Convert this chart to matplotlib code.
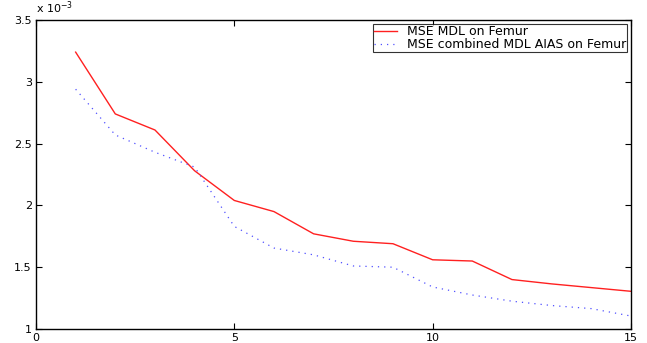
"""MSE of MDL vs combined MDL/AIAS on the femur data set."""

import matplotlib

matplotlib.use("Agg")
import matplotlib.pyplot as plt

plt.rcParams["font.family"] = ["DejaVu Sans"]

modes = [1, 2, 3, 4, 5, 6, 7, 8, 9, 10, 11, 12, 13, 14, 15]
mse_mdl = [3.24, 2.74, 2.61, 2.28, 2.04, 1.95, 1.77, 1.71, 1.69,
           1.56, 1.55, 1.40, 1.365, 1.335, 1.305]
mse_combined = [2.94, 2.57, 2.43, 2.31, 1.83, 1.655, 1.60, 1.51, 1.50,
                1.34, 1.275, 1.225, 1.19, 1.165, 1.105]
labels = ["MSE MDL on Femur", "MSE combined MDL AIAS on Femur"]

fig = plt.figure(figsize=(6.47, 3.43), dpi=100)
ax = fig.add_axes([0.0556, 0.0408, 0.9196, 0.9009])

ax.plot(modes, mse_mdl, color="#ff2020", linewidth=1.0, label=labels[0])
ax.plot(modes, mse_combined, color="#5050ff", linewidth=0.9,
        linestyle=(0, (1, 4)), label=labels[1])

ax.set_xlim(0, 15)
ax.set_ylim(1.0, 3.5)
ax.set_xticks([0, 5, 10, 15])
ax.set_yticks([1, 1.5, 2, 2.5, 3, 3.5])
ax.set_xticklabels(["0", "5", "10", "15"])
ax.set_yticklabels(["1", "1.5", "2", "2.5", "3", "3.5"])
ax.tick_params(direction="in", top=True, right=True, labelsize=8,
               length=4, width=0.8, pad=3)
for side in ax.spines.values():
    side.set_linewidth(1.0)

ax.text(0.0, 1.012, r"x 10$^{-3}$", transform=ax.transAxes,
        fontsize=8, ha="left", va="bottom")

leg = ax.legend(loc="upper right", fontsize=9, frameon=True, fancybox=False,
                edgecolor="black", borderpad=0.1, labelspacing=0.0,
                handlelength=1.8, handletextpad=0.8, borderaxespad=0.3)
leg.get_frame().set_linewidth(0.8)

fig.savefig("out.png", dpi=100)
